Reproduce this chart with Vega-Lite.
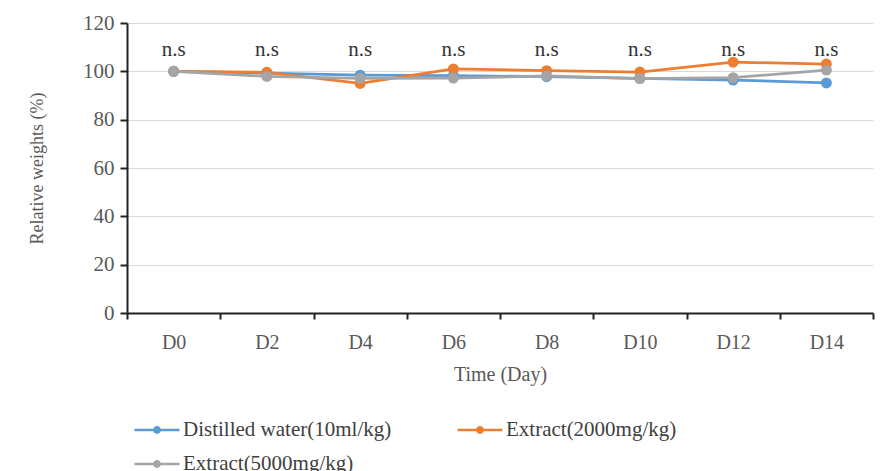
{
  "$schema": "https://vega.github.io/schema/vega-lite/v6.json",
  "width": 746,
  "height": 290,
  "padding": {"left": 28, "top": 12, "right": 5, "bottom": 0},
  "background": "white",
  "config": {"view": {"stroke": null}, "font": "Liberation Serif"},
  "datasets": {
    "weights": [
      {"day": "D0", "group": "Distilled water(10ml/kg)", "value": 100},
      {"day": "D2", "group": "Distilled water(10ml/kg)", "value": 99.3},
      {"day": "D4", "group": "Distilled water(10ml/kg)", "value": 98.4},
      {"day": "D6", "group": "Distilled water(10ml/kg)", "value": 98.2},
      {"day": "D8", "group": "Distilled water(10ml/kg)", "value": 97.8},
      {"day": "D10", "group": "Distilled water(10ml/kg)", "value": 97.1},
      {"day": "D12", "group": "Distilled water(10ml/kg)", "value": 96.4},
      {"day": "D14", "group": "Distilled water(10ml/kg)", "value": 95.2},
      {"day": "D0", "group": "Extract(2000mg/kg)", "value": 100},
      {"day": "D2", "group": "Extract(2000mg/kg)", "value": 99.6},
      {"day": "D4", "group": "Extract(2000mg/kg)", "value": 95},
      {"day": "D6", "group": "Extract(2000mg/kg)", "value": 101},
      {"day": "D8", "group": "Extract(2000mg/kg)", "value": 100.3},
      {"day": "D10", "group": "Extract(2000mg/kg)", "value": 99.7},
      {"day": "D12", "group": "Extract(2000mg/kg)", "value": 103.8},
      {"day": "D14", "group": "Extract(2000mg/kg)", "value": 103},
      {"day": "D0", "group": "Extract(5000mg/kg)", "value": 100},
      {"day": "D2", "group": "Extract(5000mg/kg)", "value": 97.9},
      {"day": "D4", "group": "Extract(5000mg/kg)", "value": 97.1},
      {"day": "D6", "group": "Extract(5000mg/kg)", "value": 97.2},
      {"day": "D8", "group": "Extract(5000mg/kg)", "value": 98.1},
      {"day": "D10", "group": "Extract(5000mg/kg)", "value": 97},
      {"day": "D12", "group": "Extract(5000mg/kg)", "value": 97.4},
      {"day": "D14", "group": "Extract(5000mg/kg)", "value": 100.5}
    ],
    "labels": [
      {"day": "D0", "label": "n.s"},
      {"day": "D2", "label": "n.s"},
      {"day": "D4", "label": "n.s"},
      {"day": "D6", "label": "n.s"},
      {"day": "D8", "label": "n.s"},
      {"day": "D10", "label": "n.s"},
      {"day": "D12", "label": "n.s"},
      {"day": "D14", "label": "n.s"}
    ]
  },
  "layer": [
    {
      "data": {"name": "weights"},
      "mark": {"type": "line", "strokeWidth": 2.75, "point": {"filled": true, "size": 120}},
      "encoding": {
        "x": {
          "field": "day",
          "type": "nominal",
          "sort": ["D0", "D2", "D4", "D6", "D8", "D10", "D12", "D14"],
          "scale": {"type": "band", "paddingInner": 0, "paddingOuter": 0},
          "axis": {
            "title": "Time (Day)",
            "titleFont": "Liberation Serif",
            "titleFontSize": 20,
            "titleFontWeight": "normal",
            "titleColor": "#595959",
            "titlePadding": 12,
            "labelAngle": 0,
            "labelFont": "Liberation Serif",
            "labelFontSize": 20,
            "labelColor": "#595959",
            "labelPadding": 13,
            "tickBand": "extent",
            "domainColor": "#222222",
            "domainWidth": 2,
            "tickColor": "#222222",
            "tickWidth": 2,
            "tickSize": 6,
            "grid": false
          }
        },
        "y": {
          "field": "value",
          "type": "quantitative",
          "scale": {"domain": [0, 120], "nice": false, "zero": true},
          "axis": {
            "title": "Relative weights (%)",
            "titleFont": "Liberation Serif",
            "titleFontSize": 18,
            "titleFontWeight": "normal",
            "titleColor": "#595959",
            "titlePadding": 36,
            "values": [0, 20, 40, 60, 80, 100, 120],
            "labelFont": "Liberation Serif",
            "labelFontSize": 21,
            "labelColor": "#595959",
            "labelPadding": 6,
            "domainColor": "#222222",
            "domainWidth": 2,
            "tickColor": "#222222",
            "tickWidth": 2,
            "tickSize": 7,
            "gridColor": "#d9d9d9",
            "gridWidth": 1
          }
        },
        "color": {
          "field": "group",
          "type": "nominal",
          "scale": {
            "domain": ["Distilled water(10ml/kg)", "Extract(2000mg/kg)", "Extract(5000mg/kg)"],
            "range": ["#5B9BD5", "#ED7D31", "#A5A5A5"]
          },
          "legend": {
            "title": null,
            "orient": "bottom",
            "direction": "horizontal",
            "columns": 2,
            "offset": 16,
            "padding": 6,
            "symbolType": "M-1,0H1M-0.12,0A0.12,0.12,0,1,1,0.12,0A0.12,0.12,0,1,1,-0.12,0",
            "symbolSize": 2025,
            "symbolStrokeWidth": 2.5,
            "labelFont": "Liberation Serif",
            "labelFontSize": 21,
            "labelColor": "#404040",
            "labelLimit": 0,
            "labelOffset": 2,
            "rowPadding": -17,
            "columnPadding": 60
          }
        }
      }
    },
    {
      "data": {"name": "labels"},
      "mark": {"type": "text", "font": "Liberation Serif", "fontSize": 21, "color": "#333333", "baseline": "middle"},
      "encoding": {
        "x": {"field": "day", "type": "nominal", "sort": ["D0", "D2", "D4", "D6", "D8", "D10", "D12", "D14"]},
        "y": {"datum": 109},
        "text": {"field": "label"}
      }
    }
  ]
}
